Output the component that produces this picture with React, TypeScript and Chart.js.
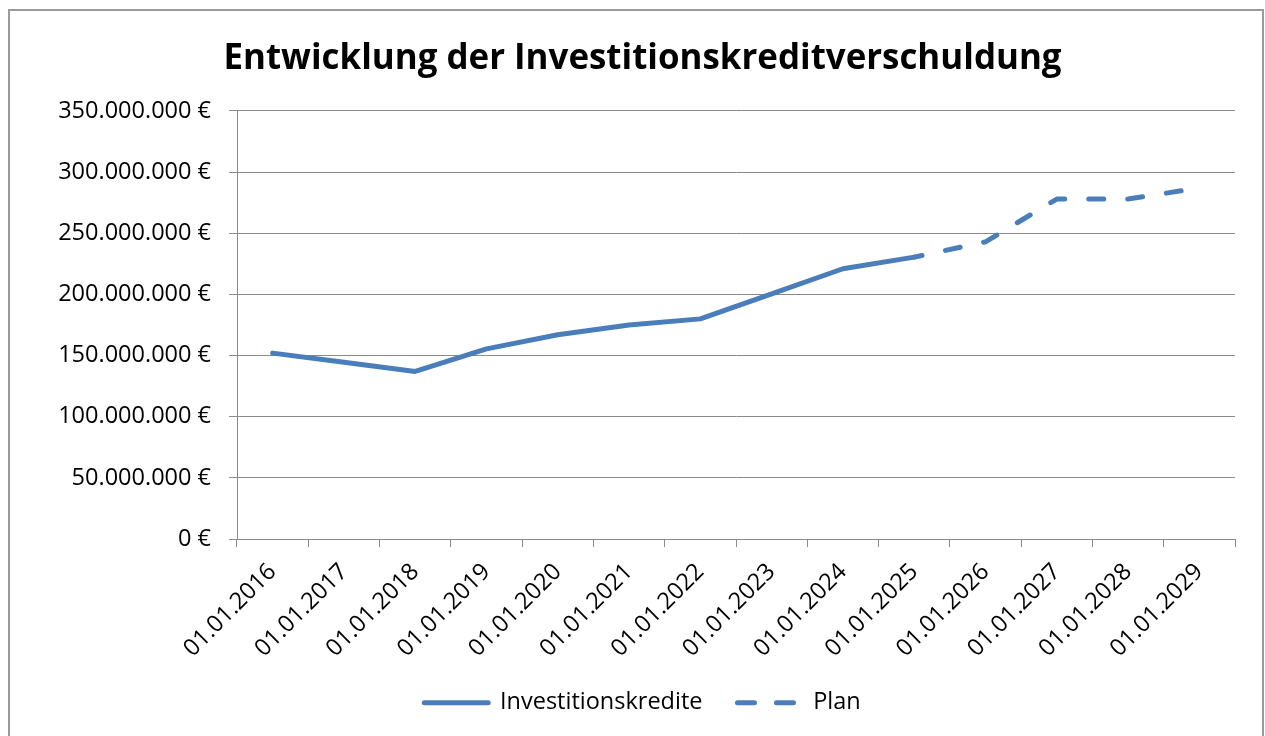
import React, { useEffect, useRef } from 'react';
import { Chart, registerables } from 'chart.js';

Chart.register(...registerables);

const chartTitle = 'Entwicklung der Investitionskreditverschuldung';
const categories = [
  '01.01.2016', '01.01.2017', '01.01.2018', '01.01.2019', '01.01.2020',
  '01.01.2021', '01.01.2022', '01.01.2023', '01.01.2024', '01.01.2025',
  '01.01.2026', '01.01.2027', '01.01.2028', '01.01.2029',
];
const seriesNames = ['Investitionskredite', 'Plan'];
const investitionskredite = [
  152000000, 144500000, 137000000, 155500000, 167000000,
  175000000, 180000000, 200500000, 221000000, 230500000,
  null, null, null, null,
];
const plan = [
  null, null, null, null, null,
  null, null, null, null, 230500000,
  243000000, 278000000, 278000000, 287000000,
];
const yMin = 0;
const yMax = 350000000;
const yStep = 50000000;

const BLUE = '#4a7ebb';
const GRAY = '#8a8a8a';
const FONT = 'Open Sans';
const PAD_LEFT = 50;

const fmtEuro = (v: number) =>
  String(Math.round(v)).replace(/\B(?=(\d{3})+(?!\d))/g, '.') + ' €';

export default function App() {
  const ref = useRef<HTMLCanvasElement>(null);

  useEffect(() => {
    const chart = new Chart(ref.current as HTMLCanvasElement, {
      type: 'line',
      data: {
        labels: categories,
        datasets: [
          {
            label: seriesNames[0],
            data: investitionskredite,
            borderColor: BLUE,
            backgroundColor: BLUE,
            borderWidth: 5,
            pointRadius: 0,
            borderCapStyle: 'round',
            borderJoinStyle: 'round',
            tension: 0,
          },
          {
            label: seriesNames[1],
            data: plan,
            borderColor: BLUE,
            backgroundColor: BLUE,
            borderWidth: 5,
            pointRadius: 0,
            borderDash: [15, 24],
            borderDashOffset: 7,
            borderCapStyle: 'round',
            borderJoinStyle: 'round',
            tension: 0,
          },
        ],
      },
      options: {
        responsive: false,
        animation: false,
        devicePixelRatio: 1,
        layout: { padding: { left: PAD_LEFT, right: 30, top: 0, bottom: 11.5 } },
        plugins: {
          title: {
            display: true,
            text: chartTitle,
            color: '#000',
            font: { family: FONT, size: 34.9, weight: 'bold' },
            padding: { top: 38.6, bottom: 30.5 },
          },
          legend: {
            position: 'bottom',
            labels: {
              usePointStyle: true,
              pointStyle: 'line',
              pointStyleWidth: 64,
              color: '#000',
              font: { family: FONT, size: 23.5 },
              padding: 35,
              generateLabels: (c: any) => {
                const items = (Chart.defaults.plugins.legend.labels as any).generateLabels(c);
                items.forEach((it: any, i: number) => {
                  it.lineWidth = 5;
                  it.lineCap = 'round';
                  if (i === 1) {
                    it.lineDash = [17, 22];
                    it.lineDashOffset = 0;
                  }
                });
                return items;
              },
            },
          },
          tooltip: { enabled: false },
        },
        scales: {
          x: {
            offset: true,
            grid: {
              display: true,
              drawOnChartArea: false,
              offset: true,
              tickLength: 8,
              color: GRAY,
              lineWidth: 1,
            },
            border: { color: GRAY, width: 1 },
            ticks: {
              color: '#000',
              font: { family: FONT, size: 23.5 },
              maxRotation: 45,
              minRotation: 45,
              autoSkip: false,
              padding: 11,
            },
            afterFit: (s: any) => {
              s.height = 117;
            },
          },
          y: {
            min: yMin,
            max: yMax,
            ticks: {
              stepSize: yStep,
              callback: (v: any) => fmtEuro(Number(v)),
              color: '#000',
              font: { family: FONT, size: 23.5 },
              padding: 18,
            },
            grid: { color: GRAY, tickLength: 8, lineWidth: 1 },
            border: { color: GRAY, width: 1 },
            afterFit: (s: any) => {
              s.width = 237 - PAD_LEFT;
            },
          },
        },
      },
    } as any);
    return () => chart.destroy();
  }, []);

  return (
    <div
      style={{
        position: 'fixed',
        left: 0,
        top: 0,
        width: 1265,
        height: 736,
        overflow: 'hidden',
        background: '#fff',
      }}
    >
      <div
        style={{
          position: 'absolute',
          left: 8,
          top: 9,
          width: 1252,
          height: 800,
          border: '2px solid #9a9a9a',
        }}
      />
      <canvas
        ref={ref}
        width={1265}
        height={736}
        style={{ position: 'absolute', left: 0, top: 0 }}
      />
    </div>
  );
}
